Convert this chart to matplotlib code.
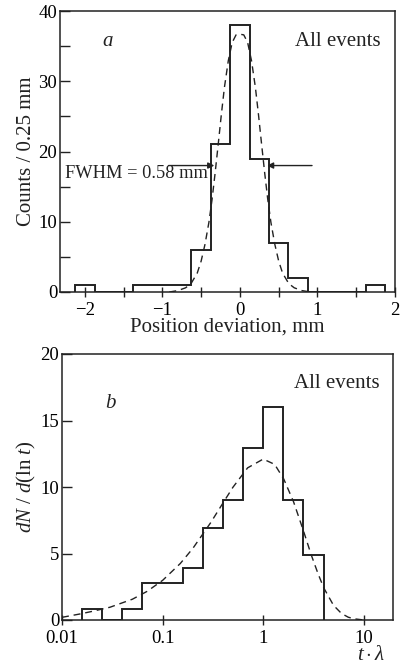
import matplotlib
matplotlib.use("Agg")
import matplotlib.pyplot as plt

plt.rcParams["font.family"] = ["Liberation Serif", "DejaVu Serif"]
plt.rcParams["mathtext.fontset"] = "custom"
plt.rcParams["mathtext.rm"] = "Liberation Serif"
plt.rcParams["mathtext.it"] = "Liberation Serif:italic"

INK = "#222222"

# panel a: position deviation histogram, bins of 0.25 mm
pos_edges = [-2.125, -1.875, -1.625, -1.375, -1.125, -0.875, -0.625, -0.375,
             -0.125, 0.125, 0.375, 0.625, 0.875, 1.125, 1.375, 1.625, 1.875]
pos_counts = [1, 0, 0, 1, 1, 1, 6, 21, 38, 19, 7, 2, 0, 0, 0, 1]
# gaussian fit
fit_a_x = [-0.91, -0.8, -0.7, -0.63, -0.55, -0.5, -0.45, -0.4, -0.36, -0.32,
           -0.28, -0.24, -0.2, -0.15, -0.1, -0.05, 0.0, 0.05, 0.1, 0.15, 0.2,
           0.24, 0.28, 0.32, 0.36, 0.4, 0.45, 0.5, 0.55, 0.63, 0.7, 0.8, 0.91]
fit_a_y = [0.0, 0.2, 0.6, 1.2, 2.7, 4.4, 6.8, 9.9, 13.1, 16.9,
           21.0, 25.2, 29.1, 32.9, 35.5, 36.6, 36.7, 36.6, 35.5, 32.9, 29.1,
           25.2, 21.0, 16.9, 13.1, 9.9, 6.8, 4.4, 2.7, 1.2, 0.6, 0.2, 0.0]
fwhm_level = 18.0
fwhm_tails = (-0.92, 0.93)
fwhm_heads = (-0.33, 0.35)

# panel b: decay time distribution, log bins
t_edges = [0.0158, 0.0251, 0.0398, 0.0631, 0.1, 0.158, 0.251, 0.398, 0.631,
           1.0, 1.585, 2.512, 3.981]
t_counts = [0.8, 0.0, 0.8, 2.8, 2.8, 3.9, 6.9, 9.0, 12.9, 16.0, 9.0, 4.9]
fit_b_x = [0.01, 0.015, 0.02, 0.03, 0.05, 0.07, 0.1, 0.15, 0.2, 0.3, 0.4,
           0.5, 0.7, 1.0, 1.3, 1.6, 2.0, 2.5, 3.0, 3.5, 4.0, 5.0, 6.0, 7.0,
           8.0, 10.0]
fit_b_y = [0.2, 0.45, 0.65, 0.96, 1.56, 2.15, 2.98, 4.25, 5.39, 7.31, 8.82,
           9.98, 11.44, 12.1, 11.7, 10.6, 8.9, 6.75, 4.9, 3.5, 2.41, 1.1, 0.49,
           0.21, 0.09, 0.0]

DASH = (0, (5, 3.5))

fig = plt.figure(figsize=(4.02, 6.67), dpi=100)

# ---------- panel a ----------
ax = fig.add_axes([60 / 402, 1 - 292 / 667, 335 / 402, 281 / 667])
ax.stairs(pos_counts, pos_edges, baseline=0, color=INK, lw=1.4)
ax.plot(fit_a_x, fit_a_y, ls=DASH, color=INK, lw=1.0)
for tail, head in zip(fwhm_tails, fwhm_heads):
    ax.annotate("", xy=(head, fwhm_level), xytext=(tail, fwhm_level),
                arrowprops=dict(arrowstyle="-|>", color=INK, lw=1.0,
                                mutation_scale=9, shrinkA=0, shrinkB=0))
ax.text(-2.26, 16.8, "FWHM = 0.58 mm", fontsize=13.2, color=INK,
        va="center", ha="left")
ax.text(-1.7, 35.6, "a", fontsize=15, style="italic", color=INK,
        ha="center", va="center")
ax.text(1.82, 35.6, "All events", fontsize=15, color=INK,
        ha="right", va="center")
ax.set_xlim(-2.32, 2.0)
ax.set_ylim(0, 40)
ax.set_xticks([-2, -1, 0, 1, 2])
ax.set_xticklabels(["\u22122", "\u22121", "0", "1", "2"])
ax.set_xticks([-1.5, -0.5, 0.5, 1.5], minor=True)
ax.set_yticks([0, 10, 20, 30, 40])
ax.set_yticks([5, 15, 25, 35], minor=True)
ax.tick_params(axis="x", which="both", direction="inout", length=7,
               width=1.0, color=INK, labelsize=13.5, pad=4)
ax.tick_params(axis="y", which="both", direction="in", length=7,
               width=1.0, color=INK, labelsize=13.5, pad=2)
ax.set_xlabel("Position deviation, mm", fontsize=15, color=INK, labelpad=-1)
ax.set_ylabel("Counts / 0.25 mm", fontsize=15, color=INK, labelpad=2)
for s in ax.spines.values():
    s.set_color(INK)
    s.set_linewidth(1.1)

# ---------- panel b ----------
bx = fig.add_axes([62 / 402, 1 - 620 / 667, 331 / 402, 266 / 667])
bx.stairs(t_counts, t_edges, baseline=0, color=INK, lw=1.4)
bx.plot(fit_b_x, fit_b_y, ls=DASH, color=INK, lw=1.0)
bx.set_xscale("log")
bx.set_xlim(0.01, 19.5)
bx.set_ylim(0, 20)
bx.set_xticks([0.01, 0.1, 1, 10])
bx.set_xticklabels(["0.01", "0.1", "1", "10"])
bx.xaxis.set_minor_locator(matplotlib.ticker.NullLocator())
bx.set_yticks([0, 5, 10, 15, 20])
bx.tick_params(axis="x", which="both", direction="inout", length=7,
               width=1.0, color=INK, labelsize=13.5, pad=4)
bx.tick_params(axis="y", which="both", direction="in", length=7,
               width=1.0, color=INK, labelsize=13.5, pad=2)
bx.text(0.03, 16.3, "b", fontsize=15, style="italic", color=INK,
        ha="center", va="center")
bx.text(14.5, 17.8, "All events", fontsize=15, color=INK,
        ha="right", va="center")
bx.set_ylabel(r"$dN\ /\ d\mathrm{(ln}\ t\mathrm{)}$", fontsize=15, color=INK,
              labelpad=2)
fig.text(385 / 402, 1 - 655 / 667, r"$t\cdot\lambda$", fontsize=15,
         color=INK, ha="right", va="center")
for s in bx.spines.values():
    s.set_color(INK)
    s.set_linewidth(1.1)

fig.savefig("out.png", dpi=100)
